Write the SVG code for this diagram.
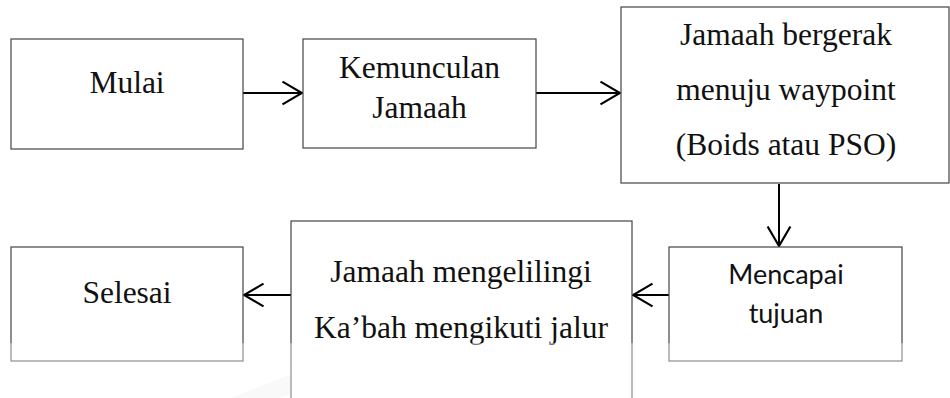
<svg xmlns="http://www.w3.org/2000/svg" width="950" height="398" viewBox="0 0 950 398">
  <style>
    .box { fill: #ffffff; stroke: #444444; stroke-width: 1.2; }
    .serif { font-family: "Liberation Serif", "Times New Roman", serif; font-size: 31.5px; fill: #111111; text-anchor: middle; }
    .sans { font-family: Lato, "Noto Sans", sans-serif; font-size: 27px; fill: #111111; text-anchor: middle; }
    .link { fill: none; stroke: #000000; stroke-width: 2; marker-end: url(#head); }
  </style>
  <defs>
    <marker id="head" markerUnits="userSpaceOnUse" markerWidth="24" markerHeight="26" viewBox="-20 -12 22 24" refX="0" refY="0" orient="auto">
      <path d="M-18,-10.5 L0,0 L-18,10.5" fill="none" stroke="#000000" stroke-width="2"/>
    </marker>
  </defs>
  <rect x="0" y="0" width="950" height="398" fill="#ffffff"/>

  <!-- faint background emblem -->
  <g id="emblem" fill="#000000" fill-opacity="0.035">
    <polygon points="230,398 420,325 610,398 560,398 420,345 280,398"/>
    <polygon points="310,398 420,358 530,398 490,398 420,373 350,398"/>
  </g>

  <g id="connectors">
    <path class="link" d="M243,93 H302"/>
    <path class="link" d="M536,93 H620"/>
    <path class="link" d="M779,184 V246"/>
    <path class="link" d="M669,295 H633"/>
    <path class="link" d="M291,295 H244"/>
  </g>

  <g id="mulai">
    <rect class="box" x="11" y="39" width="232" height="110"/>
    <text class="serif" x="127" y="93">Mulai</text>
  </g>

  <g id="kemunculan">
    <rect class="box" x="303" y="39" width="233" height="109"/>
    <text class="serif" x="419.5" y="78">Kemunculan</text>
    <text class="serif" x="419.5" y="118">Jamaah</text>
  </g>

  <g id="bergerak">
    <rect class="box" x="621" y="7" width="328" height="176"/>
    <text class="serif" x="786" y="45">Jamaah bergerak</text>
    <text class="serif" x="786" y="100">menuju waypoint</text>
    <text class="serif" x="786" y="155">(Boids atau PSO)</text>
  </g>

  <g id="mencapai">
    <rect class="box" x="669" y="247" width="233" height="114"/>
    <text class="sans" x="786" y="284">Mencapai</text>
    <text class="sans" x="786" y="323">tujuan</text>
  </g>

  <g id="mengelilingi">
    <rect class="box" x="291" y="221" width="341" height="200"/>
    <text class="serif" x="461" y="282">Jamaah mengelilingi</text>
    <text class="serif" x="461" y="338">Ka’bah mengikuti jalur</text>
  </g>

  <g id="selesai">
    <rect class="box" x="11" y="247" width="232" height="114"/>
    <text class="serif" x="127" y="303">Selesai</text>
  </g>

  <!-- lighter lower band -->
  <rect x="0" y="343" width="950" height="55" fill="#ffffff" fill-opacity="0.4"/>
</svg>
